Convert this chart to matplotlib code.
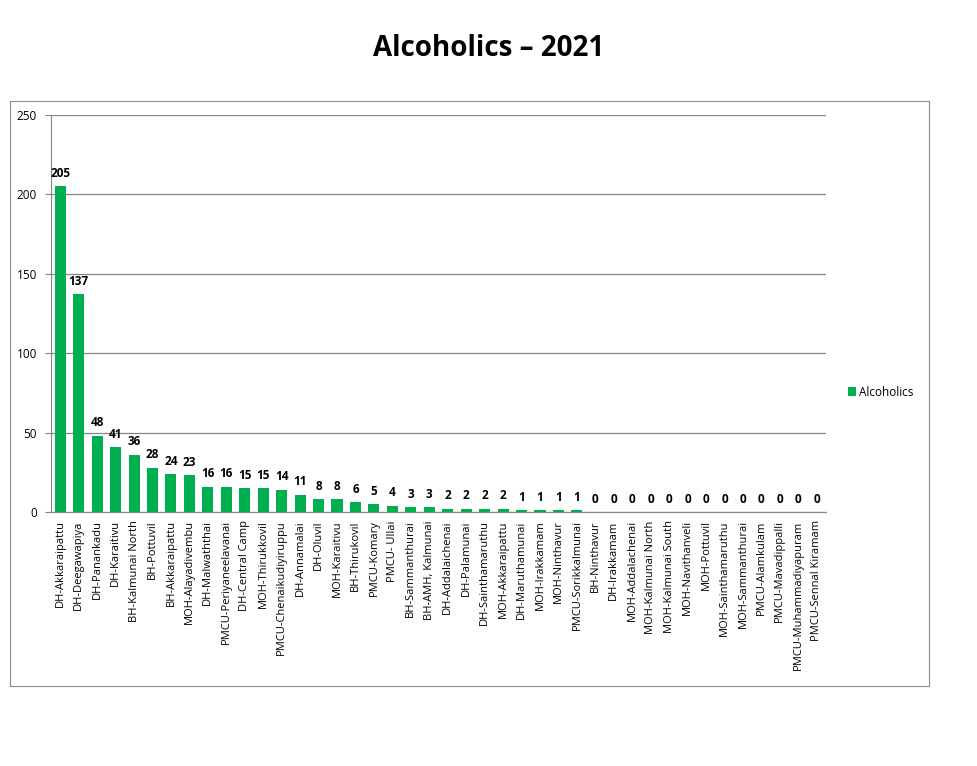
import matplotlib.pyplot as plt
from matplotlib.patches import Rectangle

# values
units = ["DH-Akkaraipattu", "DH-Deegawapiya", "DH-Panankadu", "DH-Karaitivu",
         "BH-Kalmunai North", "BH-Pottuvil", "BH-Akkaraipattu", "MOH-Alayadivembu",
         "DH-Malwaththai", "PMCU-Periyaneelavanai", "DH-Central Camp", "MOH-Thirukkovil",
         "PMCU-Chenaikudiyiruppu", "DH-Annamalai", "DH-Oluvil", "MOH-Karaitivu",
         "BH-Thirukovil", "PMCU-Komary", "PMCU- Ullai", "BH-Sammanthurai",
         "BH-AMH, Kalmunai", "DH-Addalaichenai", "DH-Palamunai", "DH-Sainthamaruthu",
         "MOH-Akkaraipattu", "DH-Maruthamunai", "MOH-Irakkamam", "MOH-Ninthavur",
         "PMCU-Sorikkalmunai", "BH-Ninthavur", "DH-Irakkamam", "MOH-Addalachenai",
         "MOH-Kalmunai North", "MOH-Kalmunai South", "MOH-Navithanveli", "MOH-Pottuvil",
         "MOH-Sainthamaruthu", "MOH-Sammanthurai", "PMCU-Alamkulam", "PMCU-Mavadippalli",
         "PMCU-Muhammadiyapuram", "PMCU-Sennal Kiramam"]
alcoholics = [205, 137, 48, 41, 36, 28, 24, 23, 16, 16, 15, 15, 14, 11, 8, 8, 6, 5, 4,
              3, 3, 2, 2, 2, 2, 1, 1, 1, 1, 0, 0, 0, 0, 0, 0, 0, 0, 0, 0, 0, 0, 0]
yticks = [0, 50, 100, 150, 200, 250]

plt.rcParams['font.family'] = ['Open Sans', 'DejaVu Sans']

fig = plt.figure(figsize=(9.77, 7.66), dpi=100)
fig.patches.append(Rectangle((10/977, 1-686/766), 919/977, 585/766, transform=fig.transFigure,
                             fill=False, edgecolor='#8c8c8c', linewidth=0.8))
fig.text(489/977, 1-48/766, "Alcoholics – 2021", ha='center', va='center',
         fontsize=20, fontweight='bold')

ax = fig.add_axes([51/977, 1-512/766, 775/977, 397/766])
x = list(range(len(units)))
bars = ax.bar(x, alcoholics, width=0.6, color='#00B050', label='Alcoholics', zorder=3)
for xi, v in zip(x, alcoholics):
    ax.text(xi, v + 4, str(v), ha='center', va='bottom', fontsize=8.5, fontweight='bold')

ax.set_xlim(-0.5, len(units) - 0.5)
ax.set_ylim(0, 250)
ax.set_yticks(yticks)
ax.yaxis.grid(True, color='#868686', linewidth=0.9, zorder=0)
ax.set_xticks(x)
ax.set_xticklabels(units, rotation=90, fontsize=8)
ax.tick_params(axis='y', labelsize=8.5, length=4, color='#868686', pad=6)
ax.tick_params(axis='x', length=0, pad=6)
for s in ['top', 'right']:
    ax.spines[s].set_visible(False)
ax.spines['left'].set_color('#868686')
ax.spines['bottom'].set_color('#868686')

fig.legend(handles=[bars], labels=['Alcoholics'], loc='center left',
           bbox_to_anchor=(837/977, 1-392/766), frameon=False, fontsize=8.5,
           handlelength=0.7, handleheight=0.7, handletextpad=0.3)

fig.savefig('out.png', dpi=100)
